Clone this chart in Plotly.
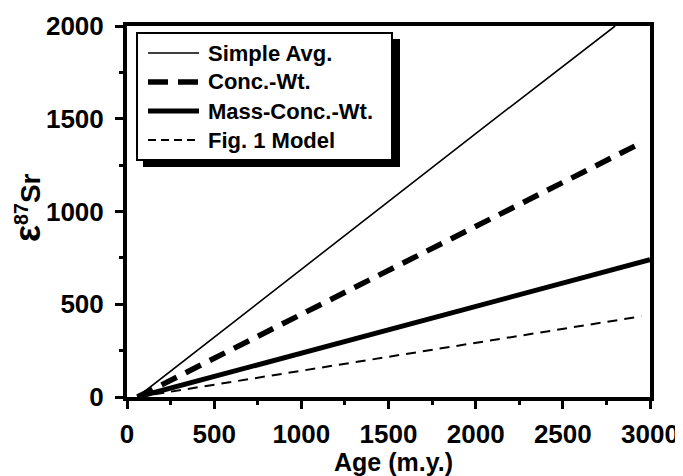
import plotly.graph_objects as go

# Data (age in m.y., epsilon 87Sr)
simple_age = [60, 1000, 2000, 2800]
simple_eps = [0, 690, 1420, 2000]

conc_age = [60, 1000, 2000, 2950]
conc_eps = [0, 445, 920, 1370]

mass_age = [60, 1000, 2000, 3000]
mass_eps = [0, 237, 488, 740]

fig1_age = [60, 1000, 2000, 2950]
fig1_eps = [0, 141, 292, 435]

series_names = ["Simple Avg.", "Conc.-Wt.", "Mass-Conc.-Wt.", "Fig. 1 Model"]
x_ticks = [0, 500, 1000, 1500, 2000, 2500, 3000]
y_ticks = [0, 500, 1000, 1500, 2000]
x_title = "Age (m.y.)"
y_title = "<span style='font-size:36px'>ε</span><sup>87</sup>Sr"

FONT = "Liberation Sans, Arial, Helvetica, sans-serif"

styles = [
    dict(width=1.6, dash="solid"),
    dict(width=5.5, dash="17px,10px"),
    dict(width=5, dash="solid"),
    dict(width=2, dash="10px,7px"),
]
legend_dash = ["solid", "20px,10px", "solid", "8px,5px"]

fig = go.Figure()
for name, xs, ys, st in zip(series_names,
                            [simple_age, conc_age, mass_age, fig1_age],
                            [simple_eps, conc_eps, mass_eps, fig1_eps],
                            styles):
    fig.add_trace(go.Scatter(x=xs, y=ys, mode="lines", name=name,
                             line=dict(color="black", width=st["width"], dash=st["dash"]),
                             showlegend=False))

# page places the figure 8px in from the top-left corner
PL, PR, PT, PB = 127, 650, 26, 397

def px_x(px):
    return (px - PL) / float(PR - PL)

def px_y(py):
    return (PB - py) / float(PB - PT)

shapes = []
# legend shadow
shapes.append(dict(type="rect", xref="paper", yref="paper",
                   x0=px_x(143), x1=px_x(400), y0=px_y(167), y1=px_y(39),
                   fillcolor="black", line=dict(width=0), layer="above"))
# legend box
shapes.append(dict(type="rect", xref="paper", yref="paper",
                   x0=px_x(137), x1=px_x(392), y0=px_y(160), y1=px_y(33),
                   fillcolor="white", line=dict(color="black", width=2), layer="above"))

rows = [53, 82, 111, 140]
annotations = []
for name, row, st, ld in zip(series_names, rows, styles, legend_dash):
    shapes.append(dict(type="line", xref="paper", yref="paper",
                       x0=px_x(148), x1=px_x(199), y0=px_y(row), y1=px_y(row),
                       line=dict(color="black", width=st["width"], dash=ld), layer="above"))
    annotations.append(dict(xref="paper", yref="paper", x=px_x(206), y=px_y(row),
                            text=name, showarrow=False, xanchor="left", yanchor="middle",
                            font=dict(family=FONT, size=22, color="black", weight="bold")))

# axis titles as annotations (fixed positions)
annotations.append(dict(xref="paper", yref="paper", x=px_x(393), y=px_y(462),
                        text=x_title, showarrow=False, xanchor="center", yanchor="middle",
                        font=dict(family=FONT, size=25, color="black", weight="bold")))
annotations.append(dict(xref="paper", yref="paper", x=px_x(27), y=px_y(208),
                        text=y_title, showarrow=False, xanchor="center", yanchor="middle",
                        textangle=-90,
                        font=dict(family=FONT, size=28, color="black", weight="bold")))

fig.update_layout(
    width=675, height=468,
    margin=dict(l=PL - 8, r=683 - PR, t=PT - 8, b=476 - PB, pad=0),
    paper_bgcolor="white", plot_bgcolor="white",
    font=dict(family=FONT, color="black", weight="bold"),
    shapes=shapes, annotations=annotations,
    showlegend=False,
)
fig.update_xaxes(
    range=[0, 3000], tickvals=x_ticks, ticktext=[str(v) for v in x_ticks],
    showgrid=False, zeroline=False, automargin=False,
    showline=True, linecolor="black", linewidth=4, mirror=True,
    ticks="outside", ticklen=8, tickwidth=3, tickcolor="black",
    minor=dict(dtick=250, tick0=0, ticks="outside", ticklen=4, tickwidth=3, tickcolor="black"),
    tickfont=dict(family=FONT, size=26, color="black", weight="bold"),
    ticklabelstandoff=3,
)
fig.update_yaxes(
    range=[0, 2000], tickvals=y_ticks, ticktext=[str(v) for v in y_ticks],
    showgrid=False, zeroline=False, automargin=False,
    showline=True, linecolor="black", linewidth=4, mirror=True,
    ticks="outside", ticklen=8, tickwidth=3, tickcolor="black",
    minor=dict(dtick=250, tick0=0, ticks="outside", ticklen=4, tickwidth=3, tickcolor="black"),
    tickfont=dict(family=FONT, size=26, color="black", weight="bold"),
    ticklabelstandoff=6,
)

fig.write_html("out.html")
